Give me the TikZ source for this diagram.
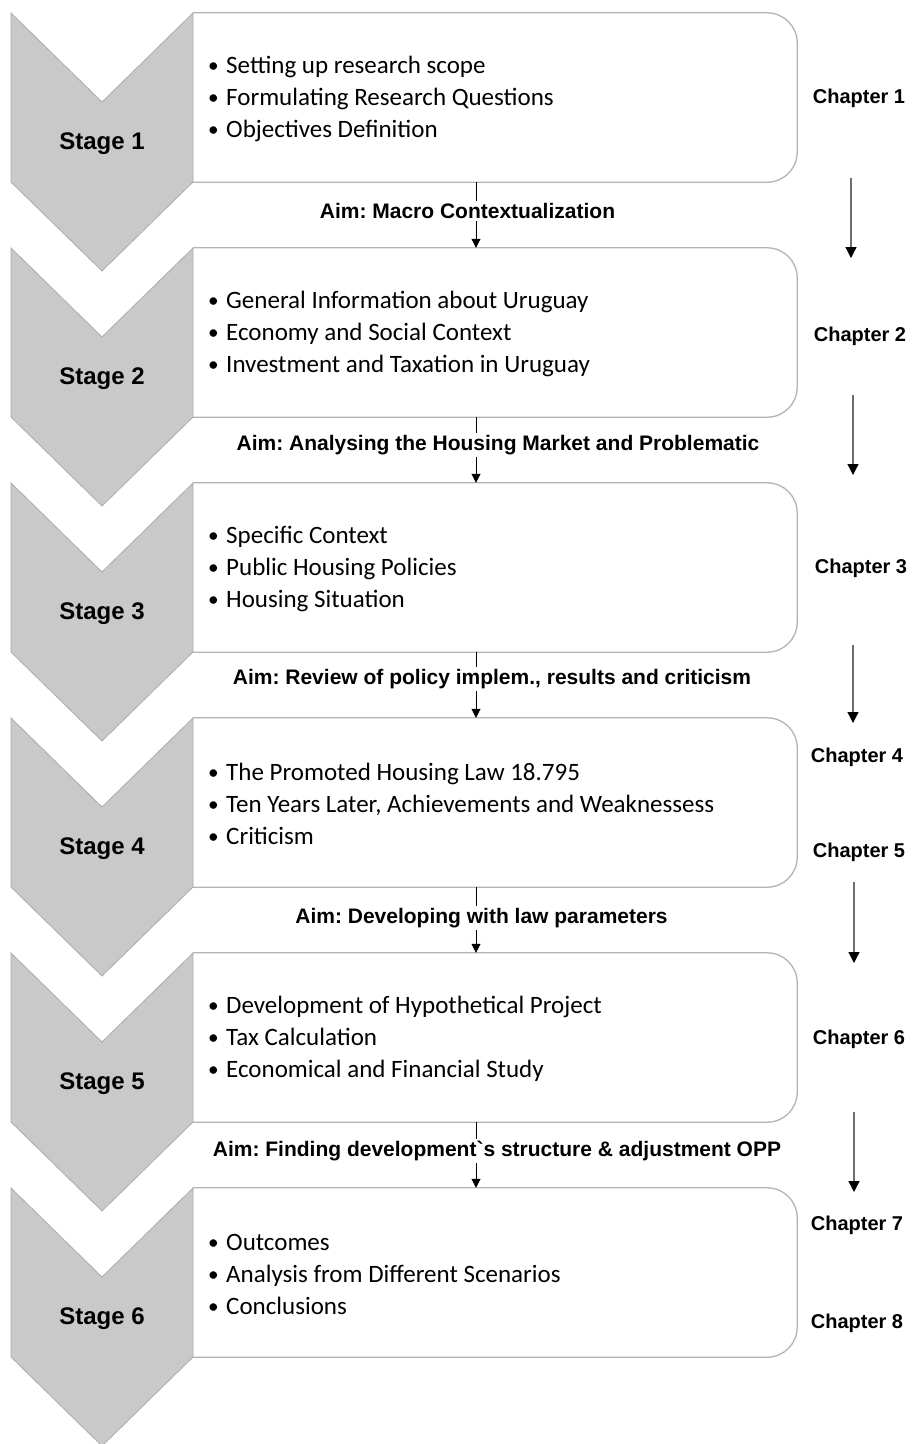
\documentclass[tikz,border=0pt]{standalone}
\usepackage{fontspec}
\setmainfont{Liberation Sans}
\newfontfamily\bodyfont{Carlito}
\usetikzlibrary{arrows.meta}
\frenchspacing
\definecolor{edgegray}{RGB}{180,180,180}
\definecolor{chevedge}{RGB}{172,172,172}
\definecolor{chevfill}{RGB}{201,201,201}
\definecolor{arrgray}{RGB}{110,110,110}
\newcommand{\bul}{\makebox[18pt][l]{\raisebox{1pt}{\scalebox{0.85}{•}}}}
\begin{document}
\begin{tikzpicture}[x=1pt,y=-1pt,
  stagebox/.style={minimum width=604pt, minimum height=169pt, inner sep=0pt, draw=none},
  boxline/.style={draw=edgegray, line width=1.3pt},
  chev/.style={draw=chevedge, line width=0.8pt, fill=chevfill},
  stagelbl/.style={font=\fontsize{24}{28}\selectfont\bfseries, inner sep=0pt},
  bullets/.style={font=\bodyfont\fontsize{25}{32}\selectfont, align=left, anchor=west, inner sep=0pt},
  aimlbl/.style={font=\fontsize{21}{24}\selectfont\bfseries, fill=white, inner sep=2pt},
  chap/.style={font=\fontsize{20}{24}\selectfont\bfseries, inner sep=0pt},
  conn/.style={draw=black, line width=0.8pt, -{Triangle[length=9pt,width=9pt]}},
  chaparrow/.style={draw=arrgray, line width=1.3pt, -{Triangle[length=11pt,width=11pt,color=black]}}
]
\useasboundingbox (0,0) rectangle (912,1444);
\fill[white] (0,0) rectangle (912,1444);

\foreach \i/\t in {1/13,2/248,3/483,4/718,5/953,6/1188} {
  \node[stagebox] (b\i) at (495,\t+84.5) {};
  \draw[boxline] (b\i.north west) -- ([xshift=-30pt]b\i.north east)
     arc[start angle=90,end angle=0,radius=30pt]
     -- ([yshift=30pt]b\i.south east)
     arc[start angle=0,end angle=-90,radius=30pt]
     -- (b\i.south west);
  \path[chev] (11,\t) -- (102,\t+89) -- (193,\t) -- (193,\t+169)
     -- (102,\t+258) -- (11,\t+169) -- cycle;
  \node[stagelbl] (s\i) at (102,\t+131) {Stage \i};
}

% bullet lists
\node[bullets] (l1) at (208,99) {\bul Setting up research scope\\\bul Formulating Research Questions\\\bul Objectives Definition};
\node[bullets] (l2) at (208,334) {\bul General Information about Uruguay\\\bul Economy and Social Context\\\bul Investment and Taxation in Uruguay};
\node[bullets] (l3) at (208,569) {\bul Specific Context\\\bul Public Housing Policies\\\bul Housing Situation};
\node[bullets] (l4) at (208,804) {\bul The Promoted Housing Law 18.795\\\bul Ten Years Later, Achievements and Weaknessess\\\bul Criticism};
\node[bullets] (l5) at (208,1039) {\bul Development of Hypothetical Project\\\bul Tax Calculation\\\bul Economical and Financial Study};
\node[bullets] (l6) at (208,1274) {\bul Outcomes\\\bul Analysis from Different Scenarios\\\bul Conclusions};

% connectors between boxes
\foreach \i/\j in {1/2,2/3,3/4,4/5,5/6} {
  \draw[conn] ([xshift=-19pt]b\i.south) -- ([xshift=-19pt]b\j.north);
}

% aim labels
\node[aimlbl] (a1) at (467.5,211) {Aim: Macro Contextualization};
\node[aimlbl] (a2) at (498,445) {Aim: Analysing the Housing Market and Problematic};
\node[aimlbl] (a3) at (492,679) {Aim: Review of policy implem., results and criticism};
\node[aimlbl] (a4) at (481.5,918) {Aim: Developing with law parameters};
\node[aimlbl] (a5) at (497,1151) {Aim: Finding development\textasciigrave s structure \& adjustment OPP};

% chapters
\node[chap] (c1) at (859,98) {Chapter 1};
\node[chap] (c2) at (860,336) {Chapter 2};
\node[chap] (c3) at (861,568) {Chapter 3};
\node[chap] (c4) at (857,757) {Chapter 4};
\node[chap] (c5) at (859,852) {Chapter 5};
\node[chap] (c6) at (859,1039) {Chapter 6};
\node[chap] (c7) at (857,1225) {Chapter 7};
\node[chap] (c8) at (857,1323) {Chapter 8};

% chapter arrows
\coordinate (p1) at (851,178);  \coordinate (q1) at (851,258);
\coordinate (p2) at (853,395);  \coordinate (q2) at (853,475);
\coordinate (p3) at (853,645);  \coordinate (q3) at (853,723);
\coordinate (p4) at (854,882);  \coordinate (q4) at (854,963);
\coordinate (p5) at (854,1112); \coordinate (q5) at (854,1192);
\foreach \i in {1,...,5} { \draw[chaparrow] (p\i) -- (q\i); }
\end{tikzpicture}
\end{document}
